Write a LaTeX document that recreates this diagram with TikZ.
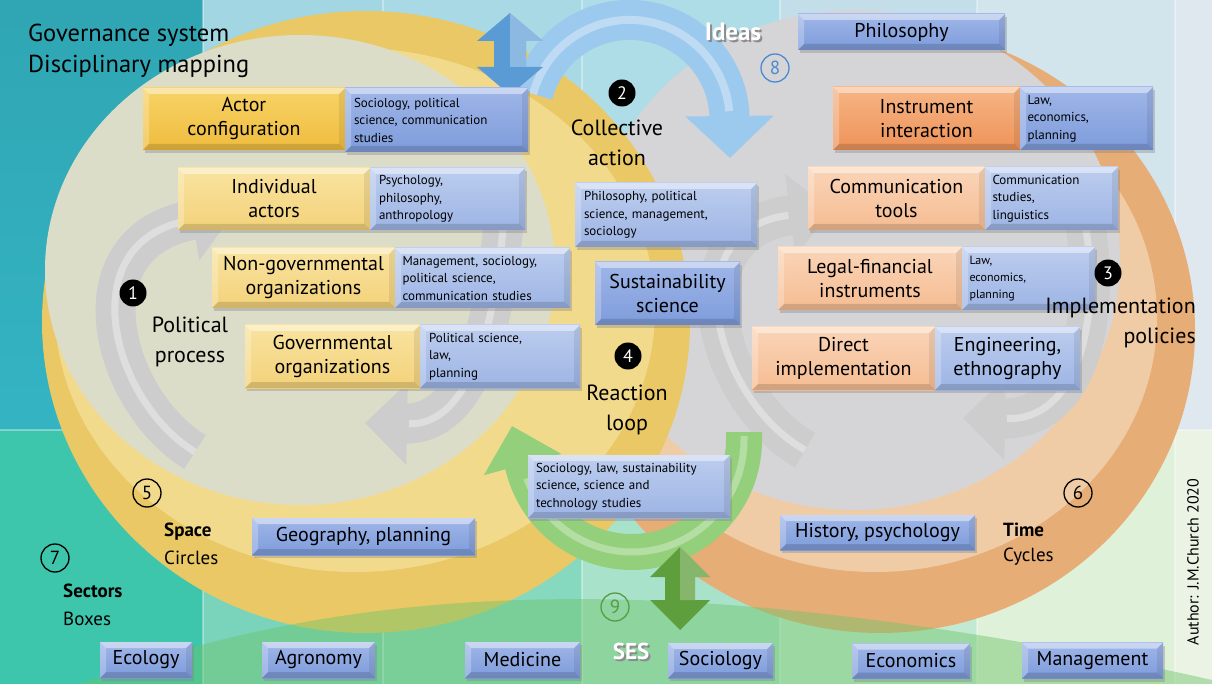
\documentclass[tikz,border=0pt]{standalone}
\usepackage{fontspec}
\setmainfont{PT Sans}
\usetikzlibrary{arrows.meta,shadows}
\definecolor{TCa}{HTML}{34B4C3}
\definecolor{TCb}{HTML}{A2D6E2}
\definecolor{TCc}{HTML}{A8D9E5}
\definecolor{TCd}{HTML}{AEDCE7}
\definecolor{TCe}{HTML}{C3DEE9}
\definecolor{TCf}{HTML}{D2E4EC}
\definecolor{TCg}{HTML}{DFE8EF}
\definecolor{BCa}{HTML}{3EC6AD}
\definecolor{BCb}{HTML}{7AD4BB}
\definecolor{BCc}{HTML}{86D9BF}
\definecolor{BCd}{HTML}{A9E2CB}
\definecolor{BCe}{HTML}{C2E9D1}
\definecolor{BCf}{HTML}{DFF1D9}
\definecolor{BCg}{HTML}{EAF3E4}
\definecolor{LYo}{HTML}{E9C865}
\definecolor{LYm}{HTML}{F2DA8C}
\definecolor{LYi}{HTML}{DCDDC9}
\definecolor{ROo}{HTML}{E7AD76}
\definecolor{ROm}{HTML}{F0CCA6}
\definecolor{ROi}{HTML}{D5D5D8}
\definecolor{Yt}{HTML}{F9E3A0}
\definecolor{Yb}{HTML}{F3D27A}
\definecolor{YDt}{HTML}{F7D366}
\definecolor{YDb}{HTML}{EFBC3E}
\definecolor{Bt}{HTML}{BCCDEE}
\definecolor{Bb}{HTML}{9DB4E4}
\definecolor{BDt}{HTML}{9FB6E8}
\definecolor{BDb}{HTML}{7E9CDB}
\definecolor{Ot}{HTML}{FAD5B8}
\definecolor{Ob}{HTML}{F5BC92}
\definecolor{ODt}{HTML}{F6B585}
\definecolor{ODb}{HTML}{EE9359}
\definecolor{GRA}{HTML}{CDCDCD}
\definecolor{BLA}{HTML}{9CC9EE}
\definecolor{BLD}{HTML}{5B9BD5}
\definecolor{GNA}{HTML}{94D07C}
\definecolor{GND}{HTML}{5E9E3C}
\definecolor{WAV}{HTML}{6CC46A}
\definecolor{N8}{HTML}{4A8AD0}
\definecolor{N9}{HTML}{5A9A40}
\tikzset{
  bevel/.style={path picture={
    \fill[white,opacity=.45] (path picture bounding box.north west) -- (path picture bounding box.north east) -- ([xshift=-6pt,yshift=-6pt]path picture bounding box.north east) -- ([xshift=6pt,yshift=-6pt]path picture bounding box.north west) -- cycle;
    \fill[white,opacity=.25] (path picture bounding box.north west) -- (path picture bounding box.south west) -- ([xshift=6pt,yshift=6pt]path picture bounding box.south west) -- ([xshift=6pt,yshift=-6pt]path picture bounding box.north west) -- cycle;
    \fill[black,opacity=.14] (path picture bounding box.south west) -- (path picture bounding box.south east) -- ([xshift=-6pt,yshift=6pt]path picture bounding box.south east) -- ([xshift=6pt,yshift=6pt]path picture bounding box.south west) -- cycle;
    \fill[black,opacity=.08] (path picture bounding box.north east) -- (path picture bounding box.south east) -- ([xshift=-6pt,yshift=6pt]path picture bounding box.south east) -- ([xshift=-6pt,yshift=-6pt]path picture bounding box.north east) -- cycle;
  }},
  bx/.style={rectangle, inner sep=0pt, outer sep=0pt, bevel, drop shadow={opacity=.35,shadow xshift=2pt,shadow yshift=-3pt}, text=black, align=center, font=\fontsize{20}{24}\selectfont},
  ybx/.style={bx, top color=Yt, bottom color=Yb},
  ydk/.style={bx, top color=YDt, bottom color=YDb},
  bbx/.style={bx, top color=Bt, bottom color=Bb},
  bdk/.style={bx, top color=BDt, bottom color=BDb},
  obx/.style={bx, top color=Ot, bottom color=Ob},
  odk/.style={bx, top color=ODt, bottom color=ODb},
  small/.style={font=\fontsize{13}{17.5}\selectfont, align=left},
  lbl/.style={inner sep=0pt, text=black, font=\fontsize{22}{30}\selectfont, align=center},
  num/.style={circle, fill=black, text=white, inner sep=0pt, minimum size=27pt, font=\fontsize{18}{18}\selectfont},
  cnum/.style={circle, draw=#1, text=#1, line width=1.3pt, inner sep=0pt, minimum size=28pt, font=\fontsize{19}{19}\selectfont},
  garrow/.style={line width=40pt, draw=GRA, -{Triangle[width=80pt,length=42pt]}},
  ghl/.style={line width=7pt, draw=white, opacity=.35, shorten >=44pt},
}
\begin{document}
\begin{tikzpicture}[x=1pt,y=-1pt]
\useasboundingbox (0,0) rectangle (1212,684);
\begin{scope}
\clip (0,0) rectangle (1212,684);
% background columns (sectors)
\fill[top color=TCa!92!black, bottom color=TCa] (0,0) rectangle (203,430);
\fill[TCb] (203,0) rectangle (383,430);
\fill[TCc] (383,0) rectangle (582,430);
\fill[TCd] (582,0) rectangle (780,430);
\fill[TCe] (780,0) rectangle (977,430);
\fill[TCf] (977,0) rectangle (1175,430);
\fill[TCg] (1175,0) rectangle (1212,430);
\fill[BCa] (0,430) rectangle (203,684);
\fill[BCb] (203,430) rectangle (383,684);
\fill[BCc] (383,430) rectangle (582,684);
\fill[BCd] (582,430) rectangle (780,684);
\fill[BCe] (780,430) rectangle (977,684);
\fill[BCf] (977,430) rectangle (1175,684);
\fill[BCg] (1175,430) rectangle (1212,684);
\foreach \xx in {203,383,582,780,977,1175} \draw[white,opacity=.35,line width=2pt] (\xx,0) -- (\xx,684);
\draw[white,opacity=.35,line width=2pt] (0,430) -- (1212,430);
% right system (time cycles)
\fill[ROo] (880,330) ellipse [x radius=315, y radius=303];
\fill[ROm] (875,318) ellipse [x radius=282, y radius=254];
\fill[ROi] (855,260) ellipse [x radius=265, y radius=250];
% left system (space circles)
\fill[LYo] (366,322) ellipse [x radius=324, y radius=311];
\fill[LYm] (355,310) ellipse [x radius=300, y radius=262];
\fill[LYi] (300,270) ellipse [x radius=255, y radius=235];
% bottom wave (SES)
\fill[WAV,opacity=.45] (80,684) .. controls (300,600) and (520,592) .. (700,603) .. controls (880,614) and (1080,650) .. (1212,680) -- (1212,684) -- cycle;
% gray loop arrows
\coordinate (a1s) at (195,452); \coordinate (a1e) at (234,213);
\draw[garrow] (a1s) .. controls (110,400) and (70,240) .. (a1e);
\draw[ghl] (a1s) .. controls (110,400) and (70,240) .. (a1e);
\coordinate (a2s) at (505,200); \coordinate (a2e) at (365,423);
\draw[garrow] (a2s) .. controls (500,290) and (480,425) .. (a2e);
\draw[ghl] (a2s) .. controls (500,290) and (480,425) .. (a2e);
\coordinate (a3s) at (805,450); \coordinate (a3e) at (832,210);
\draw[garrow] (a3s) .. controls (715,400) and (670,230) .. (a3e);
\draw[ghl] (a3s) .. controls (715,400) and (670,230) .. (a3e);
\coordinate (a4s) at (1080,200); \coordinate (a4e) at (963,418);
\draw[garrow] (a4s) .. controls (1105,300) and (1085,420) .. (a4e);
\draw[ghl] (a4s) .. controls (1105,300) and (1085,420) .. (a4e);
% blue collective action arrow
\coordinate (bas) at (533,94); \coordinate (bae) at (730,158);
\draw[line width=40pt, draw=BLA, -{Triangle[width=86pt,length=42pt]}] (bas) arc[start angle=195,end angle=360,radius=100] -- (bae);
\draw[line width=8pt, draw=white, opacity=.35] (bas) arc[start angle=195,end angle=355,radius=100];
% blue double arrow (ideas)
\fill[BLD] (510,13) -- (543,41) -- (526,41) -- (526,67) -- (543,67) -- (510,95) -- (477,67) -- (494,67) -- (494,41) -- (477,41) -- cycle;
\fill[white,opacity=.3] (510,13) -- (543,41) -- (526,41) -- (526,67) -- (510,67) -- cycle;
% green reaction loop arrow
\coordinate (gas) at (744,432); \coordinate (gae) at (512,426);
\draw[line width=36pt, draw=GNA, -{Triangle[width=78pt,length=40pt]}] (gas) -- (744,440) arc[start angle=0,end angle=165,radius=112] -- (gae);
\draw[line width=7pt, draw=white, opacity=.3] (744,436) -- (744,440) arc[start angle=0,end angle=160,radius=112];
% green double arrow (SES)
\fill[GND] (680,547) -- (710,577) -- (695,577) -- (695,600) -- (710,600) -- (680,630) -- (650,600) -- (665,600) -- (665,577) -- (650,577) -- cycle;
\fill[white,opacity=.25] (680,547) -- (710,577) -- (695,577) -- (695,600) -- (680,600) -- cycle;

% boxes: political process
\node[ydk, minimum width=202pt, minimum height=62pt] (ac) at (244,119) {Actor\\configuration};
\node[bdk, minimum width=183pt, minimum height=64pt, small, text width=165pt] (acd) at (436.5,120) {Sociology, political\\science, communication\\studies};
\node[ybx, minimum width=192pt, minimum height=62pt] (ia) at (274,199) {Individual\\actors};
\node[bbx, minimum width=155pt, minimum height=62pt, small, text width=137pt] (iad) at (447.5,199) {Psychology,\\philosophy,\\anthropology};
\node[ybx, minimum width=183pt, minimum height=60pt] (ngo) at (303.5,278) {Non-governmental\\organizations};
\node[bbx, minimum width=175pt, minimum height=60pt, small, text width=160pt] (ngod) at (482.5,278) {Management, sociology,\\political science,\\communication studies};
\node[ybx, minimum width=175pt, minimum height=63pt] (gov) at (332.5,356.5) {Governmental\\organizations};
\node[bbx, minimum width=160pt, minimum height=63pt, small, text width=142pt] (govd) at (500,356.5) {Political science,\\law,\\planning};
% collective action
\node[bbx, minimum width=182pt, minimum height=64pt, small, text width=164pt] (cad) at (666,215) {Philosophy, political\\science, management,\\sociology};
\node[bdk, minimum width=145pt, minimum height=63pt] (ss) at (667.5,293.5) {Sustainability\\science};
% implementation
\node[odk, minimum width=187pt, minimum height=63pt] (ii) at (926.5,118.5) {Instrument\\interaction};
\node[bdk, minimum width=133pt, minimum height=63pt, small, text width=118pt] (iid) at (1086.5,118.5) {Law,\\economics,\\planning};
\node[obx, minimum width=177pt, minimum height=63pt] (ct) at (896.5,198.5) {Communication\\tools};
\node[bbx, minimum width=133pt, minimum height=63pt, small, text width=118pt] (ctd) at (1051.5,198.5) {Communication\\studies,\\linguistics};
\node[obx, minimum width=184pt, minimum height=63pt] (lf) at (870,278.5) {Legal-financial\\instruments};
\node[bbx, minimum width=133pt, minimum height=63pt, align=left, text width=118pt, font=\fontsize{12}{17}\selectfont] (lfd) at (1028.5,278.5) {Law,\\economics,\\planning};
\node[obx, minimum width=183pt, minimum height=63pt] (di) at (843.5,358.5) {Direct\\implementation};
\node[bbx, minimum width=145pt, minimum height=63pt] (did) at (1007.5,358.5) {Engineering,\\ethnography};
% reaction loop
\node[bbx, minimum width=202pt, minimum height=63pt, small, text width=186pt] (rld) at (629,486.5) {Sociology, law, sustainability\\science, science and\\technology studies};
% ideas, space, time
\node[bdk, minimum width=207pt, minimum height=36pt] (phil) at (901.5,32) {Philosophy};
\node[bdk, minimum width=223pt, minimum height=37pt] (geo) at (363.5,536.5) {Geography, planning};
\node[bdk, minimum width=195pt, minimum height=35pt] (hist) at (877.5,532.5) {History, psychology};
% sectors
\node[bdk, minimum width=92pt, minimum height=36pt] (eco) at (146,660) {Ecology};
\node[bdk, minimum width=113pt, minimum height=36pt] (agr) at (318.5,660) {Agronomy};
\node[bdk, minimum width=115pt, minimum height=36pt] (med) at (522.5,660) {Medicine};
\node[bdk, minimum width=105pt, minimum height=35pt] (soc) at (720.5,660.5) {Sociology};
\node[bdk, minimum width=118pt, minimum height=35pt] (econ) at (911,661) {Economics};
\node[bdk, minimum width=141pt, minimum height=36pt] (mgmt) at (1092.5,660.5) {Management};

% labels
\node[lbl, anchor=west, font=\fontsize{24.5}{24.5}\selectfont] (gs) at (28,35) {Governance system};
\node[lbl, anchor=west, font=\fontsize{24.5}{24.5}\selectfont] (dm) at (28,66) {Disciplinary mapping};
\node[lbl, text=black!45, font=\bfseries\fontsize{25}{25}\selectfont] at (735,34) {Ideas};
\node[lbl, text=white, font=\bfseries\fontsize{25}{25}\selectfont] (ideas) at (733,32) {Ideas};
\node[cnum=N8] (n8) at (775,68) {8};
\node[num] (n2) at (622,93) {2};
\node[lbl] (coll) at (617,143) {Collective\\action};
\node[num] (n1) at (133,293) {1};
\node[lbl] (pol) at (190,342) {Political\\process};
\node[num] (n3) at (1108,273) {3};
\node[lbl, anchor=east, align=right] (impl) at (1196,323) {Implementation\\policies};
\node[num] (n4) at (628,356) {4};
\node[lbl] (reac) at (627,410) {Reaction\\loop};
\node[cnum=black] (n5) at (147,493) {5};
\node[lbl, anchor=west, font=\bfseries\fontsize{19}{19}\selectfont] (space) at (164,532) {Space};
\node[lbl, anchor=west, font=\fontsize{19}{19}\selectfont] (circ) at (164,558) {Circles};
\node[cnum=black] (n6) at (1078,493) {6};
\node[lbl, anchor=west, font=\bfseries\fontsize{19}{19}\selectfont] (time) at (1003,530) {Time};
\node[lbl, anchor=west, font=\fontsize{19}{19}\selectfont] (cyc) at (1003,557) {Cycles};
\node[cnum=black] (n7) at (55,558) {7};
\node[lbl, anchor=west, font=\bfseries\fontsize{19}{19}\selectfont] (sect) at (63,591) {Sectors};
\node[lbl, anchor=west, font=\fontsize{19}{19}\selectfont] (boxes) at (63,619) {Boxes};
\node[cnum=N9] (n9) at (615,607) {9};
\node[lbl, text=black!45, font=\bfseries\fontsize{23}{23}\selectfont] at (633,653) {SES};
\node[lbl, text=white, font=\bfseries\fontsize{23}{23}\selectfont] (ses) at (631,651) {SES};
\node[lbl, rotate=90, font=\fontsize{16}{16}\selectfont] (auth) at (1193,562) {Author: J.M.Church 2020};
\end{scope}
\end{tikzpicture}
\end{document}
